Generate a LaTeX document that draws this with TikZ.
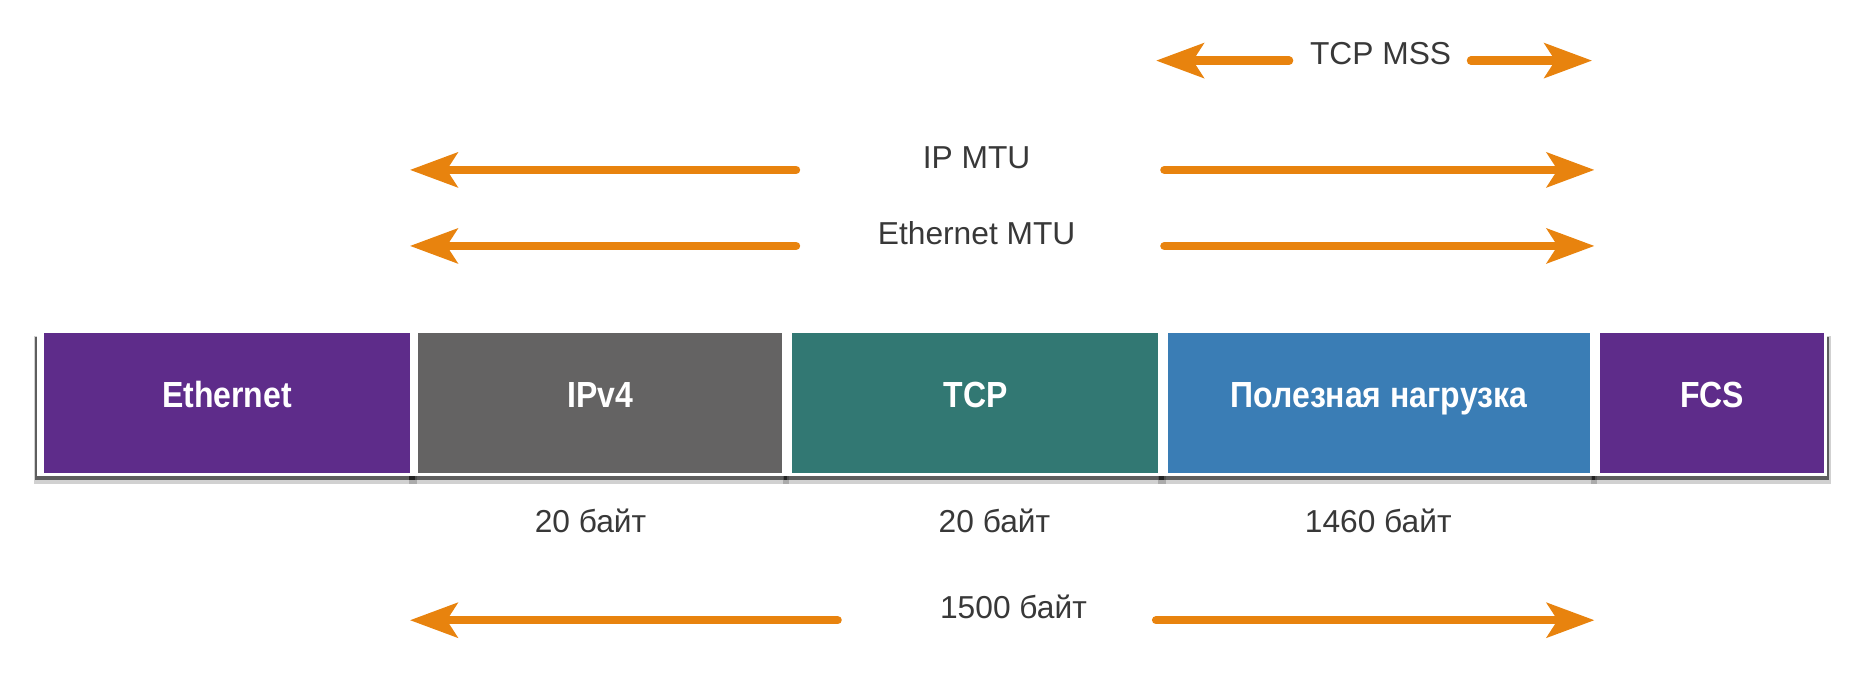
\documentclass[tikz,border=0pt]{standalone}
\usepackage{fontspec}
\setmainfont{Liberation Sans}
\newfontfamily\boxfont[FakeStretch=0.88]{Liberation Sans}
\usetikzlibrary{arrows.meta}
\definecolor{cpurple}{HTML}{5E2C8A}
\definecolor{cgray}{HTML}{646363}
\definecolor{cteal}{HTML}{327873}
\definecolor{cblue}{HTML}{3A7DB5}
\definecolor{corange}{HTML}{E8830E}
\definecolor{ctext}{HTML}{383838}
\begin{document}
\begin{tikzpicture}[x=0.1mm,y=-0.1mm,
  seg/.style={minimum height=11.8mm, inner sep=0pt, text=white,
    text height=1.8mm, text depth=1.0mm,
    font=\boxfont\bfseries\fontsize{8.7}{10}\selectfont},
  lab/.style={text=ctext, inner sep=0pt, font=\fontsize{7.6}{9}\selectfont},
  arr/.style={draw=corange, line width=0.7mm, line cap=round,
    -{Stealth[length=4mm, width=2.9mm, inset=0.9mm]}},
  shsoft/.style={fill=black, opacity=0.18},
  shdark/.style={fill=black, opacity=0.55},
  frame/.style={fill=white}]
\useasboundingbox (0,0) rectangle (1568,568);
% shadows and white frames of the segments
\foreach \l/\r in {37/345, 352/658, 667/975, 983/1338, 1347/1535} {
  \fill[shsoft] (\l-8,283) rectangle (\r+6,407);
}
\foreach \l/\r in {37/345, 352/658, 667/975, 983/1338, 1347/1535} {
  \fill[shdark] (\l-7.5,284) rectangle (\r+4.5,404);
}
\foreach \l/\r in {37/345, 352/658, 667/975, 983/1338, 1347/1535} {
  \fill[frame] (\l-6,277) rectangle (\r+3,401);
}
% segments
\node[seg, fill=cpurple, minimum width=30.8mm] (eth) at (191,339) {Ethernet};
\node[seg, fill=cgray,   minimum width=30.6mm] (ip)  at (505,339) {IPv4};
\node[seg, fill=cteal,   minimum width=30.8mm] (tcp) at (821,339) {TCP};
\node[seg, fill=cblue,   minimum width=35.5mm] (pay) at (1160.5,339) {Полезная нагрузка};
\node[seg, fill=cpurple, minimum width=18.8mm] (fcs) at (1441,339) {FCS};
% size labels
\node[lab] (ipsz)  at (497,438)  {20 байт};
\node[lab] (tcpsz) at (837,438)  {20 байт};
\node[lab] (paysz) at (1160,438) {1460 байт};
% top labels
\node[lab] (mss) at (1162,45)  {TCP MSS};
\node[lab] (ipmtu) at (822,133) {IP MTU};
\node[lab] (ethmtu) at (822,196) {Ethernet MTU};
\node[lab] (total) at (853,511) {1500 байт};
% arrow ends
\coordinate (mssLt) at (1085,51);  \coordinate (mssLh) at (973,51);
\coordinate (mssRt) at (1238,51);  \coordinate (mssRh) at (1340,51);
\coordinate (ipLt) at (670,143);   \coordinate (ipLh) at (345,143);
\coordinate (ipRt) at (980,143);   \coordinate (ipRh) at (1342,143);
\coordinate (ethLt) at (670,207);  \coordinate (ethLh) at (345,207);
\coordinate (ethRt) at (980,207);  \coordinate (ethRh) at (1342,207);
\coordinate (totLt) at (705,522);  \coordinate (totLh) at (345,522);
\coordinate (totRt) at (973,522);  \coordinate (totRh) at (1342,522);
\draw[arr] (mssLt) -- (mssLh);
\draw[arr] (mssRt) -- (mssRh);
\draw[arr] (ipLt) -- (ipLh);
\draw[arr] (ipRt) -- (ipRh);
\draw[arr] (ethLt) -- (ethLh);
\draw[arr] (ethRt) -- (ethRh);
\draw[arr] (totLt) -- (totLh);
\draw[arr] (totRt) -- (totRh);
\end{tikzpicture}
\end{document}
